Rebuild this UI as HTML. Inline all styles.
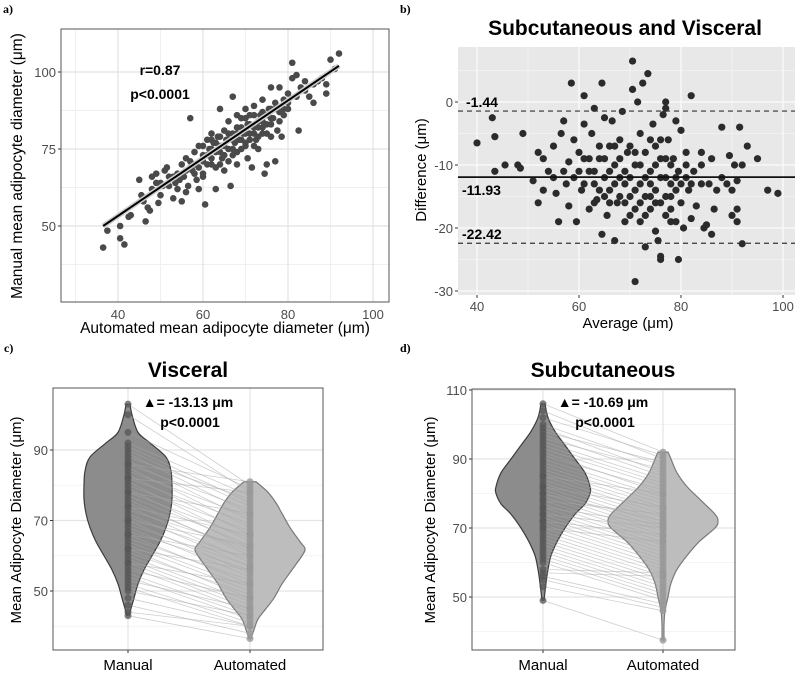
<!DOCTYPE html>
<html><head><meta charset="utf-8"><style>
html,body{margin:0;padding:0;background:#fff;}
svg{display:block;font-family:"Liberation Sans",sans-serif;}
</style></head><body>
<svg id="fig" width="800" height="673" viewBox="0 0 800 673" xmlns="http://www.w3.org/2000/svg"></svg>
<script>
// ---- Panel a data ----
const aPoints=[[36.5,43],[37.5,48.5],[40.5,50],[40.5,46],[41.5,44],[42.5,53],[43,53.5],[45.5,60],[45,65],[46,58],[46.5,51.5],[47,56],[47.5,55],[48,62],[48,66],[49,67],[49,64],[49.5,57.5],[50,60],[50.5,63],[51,68],[51.5,69],[52,63],[53,59],[53,66],[53.5,64],[54,67],[54.5,65],[55,70],[55,58],[55.5,66],[56,61],[56,72],[56.5,63],[57,69],[57,71],[57,85],[57.5,68],[58,74],[58.5,65],[59,69],[59,62],[60,73],[60,67],[60.5,57],[61,78],[61,70],[61.5,75],[62,72],[62,80],[62.5,77],[63,74],[63,69],[63,62],[63.5,79],[64,88],[64,76],[64.5,72],[65,81],[65,68],[65.5,78],[66,75],[66,84],[66.5,63],[67,80],[67,73],[67,92],[67.5,77],[68,82],[68,70],[68.5,78],[69,85],[69,75],[69.5,80],[70,88],[70,77],[70.5,83],[70.5,72],[71,80],[71,86],[71.5,69],[72,82],[72,89],[72.5,78],[73,84],[73,75],[73.5,86],[74,80],[74,91],[74.5,67],[75,83],[75,70],[75.5,88],[76,95],[76,79],[76.5,85],[77,71],[77,90],[77.5,81],[78,87],[78,95],[78.5,79],[79,91],[80,90],[80,88],[81,98],[81,103],[82,99],[82.5,81],[83,95],[84,97],[85,92],[86,90],[87,97],[89,93],[89,96],[90,104],[91,101],[92,106],[70,76],[68,74],[66,71],[64,70],[72,76],[74,84],[76,83],[62,70],[60,66],[58,70],[59,76],[65,73],[67,78],[69,82],[71,83],[73,79],[75,86],[77,88],[79,88],[61,73],[63,77],[65,76],[67,75],[69,78],[71,78],[73,82],[75,80],[60,76],[62,78],[64,79],[66,80],[68,86],[70,85],[72,86],[74,87],[76,88],[70,80],[68,80],[66,78],[64,74],[62,75],[60,71],[58,67],[56,68],[54,62],[52,66],[50,64],[72,80],[74,82],[76,85],[78,84],[80,93],[82,92],[84,94],[86,96],[88,98],[79,86]];
const aFit=[[36.5,50],[92,102]];
const aXTicks=[40,60,80,100];
const aYTicks=[50,75,100];
// ---- Panel b data ----
const bPoints=[[40,-6.5],[43,-2.5],[43.5,-5.5],[43.5,-11],[45.5,-10],[48,-10],[48.5,-10.5],[49,-5],[51,-12.5],[52,-8],[52,-16],[53,-14],[53,-9],[54,-11],[55,-7],[55.5,-14.5],[56,-19],[56.5,-5],[57,-3],[57.5,-13],[58,-16.5],[58,-9.5],[58.5,3],[59,-6],[59,-12],[59.5,-19],[60,-8],[60.5,-14],[61,-3.5],[61,1],[62,-11],[62,-17],[62.5,-5],[63,-1],[63,-13],[63.5,-15.5],[64,-9],[64.5,3],[64.5,-21],[65,-2.5],[65,-12],[65.5,-18],[66,-7],[66,-14],[66.5,-3],[67,-10],[67,-22],[67.5,-16],[68,-6],[68,-12],[68.5,-1.5],[69,-13],[69,-19],[69.5,-8],[70,-15],[70.5,2],[70.5,6.5],[71,-10],[71,-17],[71,-28.5],[71.5,0],[72,-5],[72,-13],[72,-19],[72.5,3],[73,-8],[73,-15],[73,-23],[73.5,4.5],[74,-11],[74,-17],[74.5,-3.5],[75,-7],[75,-14],[75,-20.5],[75.5,-22],[76,-9],[76,-16],[76,-25],[76,-24.5],[76.5,-2],[77,-12],[77,-18],[77,0],[77,-1],[77.5,-6],[78,-13],[78,-15],[78.5,-9],[79,-19],[79,-3],[79.5,-11],[79.5,-25],[80,-16],[80,-4.5],[80.5,-20],[81,-12],[81,-8],[81.5,-14],[82,1],[82,-18.5],[82.5,-11],[83,-16.5],[84,-8],[84,-13],[84.5,-20],[85,-19.5],[85.5,-13],[86,-9],[86,-21],[86.5,-17],[87,-14],[88,-4],[88,-12],[89,-13],[89.5,-8.5],[90,-14],[90,-18],[90.5,-10],[91,-17],[91,-19],[91,-12.5],[91.5,-4],[92,-10],[92,-22.5],[93,-7],[95,-9],[97,-14],[99,-14.5],[60,-11],[62,-9],[64,-14],[66,-11],[68,-15],[70,-12],[72,-10],[74,-13],[76,-12],[78,-10],[80,-13],[70,-18],[74,-6],[78,-17],[68,-9],[66,-16],[64,-7],[82,-13],[84,-10],[69,-11],[71,-14],[73,-12],[75,-10],[77,-15],[79,-14],[81,-10],[67,-13],[65,-9],[63,-11],[61,-13],[57,-11],[55,-12],[70,-7],[72,-16],[76,-6],[78,-19],[74,-15],[69,-16],[71,-8],[73,-18],[75,-16],[77,-9],[79,-12],[65,-15],[67,-7],[63,-16],[61,-9]];
const bMean=-11.93, bUpper=-1.44, bLower=-22.42;
const bXTicks=[40,60,80,100];
const bYTicks=[0,-10,-20,-30];
// ---- Panel c data ----
const cManualLevels=[43,45,48,52,56,60,64,68,72,76,80,84,88,92,95,100,103];
const cManualDensity=[1,3,6,10,16,24,32,38,42,44,44,43,38,22,10,4,2];
const cAutoLevels=[36.5,39,42,45,48,52,56,60,62,64,68,72,75,78,81];
const cAutoDensity=[1,4,8,16,24,32,42,52,55,50,40,32,26,18,6];
const cPairs=[[103,80],[100,78],[95,79],[92,77],[91,75],[90,74],[89,72],[88,76],[87,70],[86,73],[85,68],[84,71],[83,66],[82,69],[81,64],[80,67],[79,62],[78,65],[77,63],[76,60],[75,61],[74,58],[73,62],[72,57],[71,59],[70,55],[69,57],[68,54],[67,56],[66,52],[65,53],[64,51],[63,50],[62,48],[61,49],[60,47],[59,46],[58,45],[57,44],[56,48],[55,43],[54,42],[53,45],[52,41],[51,40],[50,43],[48,40],[46,38],[44,40],[43,36.5],[86,81],[82,78],[78,72],[74,66],[70,63],[66,60],[62,56],[58,52]];
const cYTicks=[50,70,90];
// ---- Panel d data ----
const dManualLevels=[49,54,58,62,66,70,74,77,80,82,86,90,94,98,102,106];
const dManualDensity=[1,3,5,8,14,22,32,42,47,47,42,32,22,12,5,2];
const dAutoLevels=[37.5,42,46,50,54,58,62,66,70,72,74,78,82,86,90,92];
const dAutoDensity=[1,1,2,5,8,14,24,36,52,55,52,38,24,14,8,5];
const dPairs=[[106,92],[104,90],[102,91],[100,88],[99,86],[98,89],[97,85],[96,87],[95,84],[94,83],[93,82],[92,80],[91,81],[90,79],[89,78],[88,77],[87,76],[86,75],[85,74],[84,73],[83,72],[82,71],[81,70],[80,69],[79,68],[78,67],[77,66],[76,65],[75,64],[74,63],[73,62],[72,61],[71,60],[70,59],[69,58],[68,57],[67,56],[66,55],[65,54],[64,53],[63,52],[62,51],[61,50],[60,49],[58,57],[57,56],[56,48],[55,47],[53,46],[49,37.5],[85,80],[82,76],[80,72],[78,74],[76,71],[74,70],[72,68],[70,66]];
const dYTicks=[50,70,90,110];
const groupLabels=["Manual","Automated"];

const NS="http://www.w3.org/2000/svg";
const svg=document.getElementById('fig');
function mk(tag,attrs,parent,text){const e=document.createElementNS(NS,tag);for(const k in attrs)e.setAttribute(k,attrs[k]);if(text!==undefined)e.textContent=text;(parent||svg).appendChild(e);return e;}
function lin(d0,d1,r0,r1){return v=>r0+(v-d0)*(r1-r0)/(d1-d0);}

// ================= Panel a =================
(function(){
 const L=61,R=389,T=29,B=302;
 const x=lin(40,100,118,373), y=lin(50,100,226,72);
 const g=mk('g',{});
 
 
 const bg=mk('rect',{x:L,y:T,width:R-L,height:B-T,fill:'#fff'},g);
 
 
 [30,50,70,90].forEach(v=>mk('line',{x1:x(v),x2:x(v),y1:T,y2:B,stroke:'#f0f0f0','stroke-width':1},g));
 [37.5,62.5,87.5].forEach(v=>mk('line',{x1:L,x2:R,y1:y(v),y2:y(v),stroke:'#f0f0f0','stroke-width':1},g));
 aXTicks.forEach(v=>{mk('line',{x1:x(v),x2:x(v),y1:T,y2:B,stroke:'#e2e2e2','stroke-width':1.2},g);
  const t=mk('text',{x:x(v),y:B+17,'text-anchor':'middle','font-size':13,fill:'#4d4d4d'},g,String(v));
  });
 aYTicks.forEach(v=>{mk('line',{x1:L,x2:R,y1:y(v),y2:y(v),stroke:'#e2e2e2','stroke-width':1.2},g);
  mk('line',{x1:L-3,x2:L,y1:y(v),y2:y(v),stroke:'#333'},g);
  const t=mk('text',{x:L-5,y:y(v)+5,'text-anchor':'end','font-size':13,fill:'#4d4d4d'},g,String(v));
  });
 aPoints.forEach(p=>{const c=mk('circle',{cx:x(p[0]),cy:y(p[1]),r:3.3,fill:'#4a4a4a'},g);
  });
 mk('line',{x1:x(aFit[0][0]),y1:y(aFit[0][1]),x2:x(aFit[1][0]),y2:y(aFit[1][1]),stroke:'#ccc','stroke-width':5},g);
 const fl=mk('line',{x1:x(aFit[0][0]),y1:y(aFit[0][1]),x2:x(aFit[1][0]),y2:y(aFit[1][1]),stroke:'#000','stroke-width':2},g);
 
 mk('rect',{x:L,y:T,width:R-L,height:B-T,fill:'none',stroke:'#555','stroke-width':1},g);
 const r1=mk('text',{x:160,y:75,'text-anchor':'middle','font-size':14,'font-weight':'bold'},g,'r=0.87');
 
 const r2=mk('text',{x:160,y:99,'text-anchor':'middle','font-size':14,'font-weight':'bold'},g,'p<0.0001');
 
 const xt=mk('text',{x:225,y:333,'text-anchor':'middle','font-size':15.5},g,'Automated mean adipocyte diameter (μm)');
 
 const yt=mk('text',{x:0,y:0,'text-anchor':'middle','font-size':15.5,transform:'translate(22,166) rotate(-90)'},g,'Manual mean adipocyte diameter (μm)');
 
 const pl=mk('text',{x:3,y:13,'font-size':12,'font-weight':'bold','font-family':'Liberation Serif,serif'},g,'a)');
 
})();

// ================= Panel b =================
(function(){
 const L=458,R=795,T=47,B=295;
 const x=lin(40,100,477,783), y=lin(0,-30,102,291);
 const g=mk('g',{});
 
 
 const bg=mk('rect',{x:L,y:T,width:R-L,height:B-T,fill:'#e8e8e8'},g);
 
 [5,-5,-15,-25].forEach(v=>mk('line',{x1:L,x2:R,y1:y(v),y2:y(v),stroke:'#f4f4f4','stroke-width':0.8},g));
 [50,70,90].forEach(v=>mk('line',{x1:x(v),x2:x(v),y1:T,y2:B,stroke:'#f4f4f4','stroke-width':0.8},g));
 bYTicks.forEach(v=>{mk('line',{x1:L,x2:R,y1:y(v),y2:y(v),stroke:'#fafafa','stroke-width':1.3},g);
  mk('line',{x1:L-3,x2:L,y1:y(v),y2:y(v),stroke:'#333'},g);
  const t=mk('text',{x:L-5,y:y(v)+5,'text-anchor':'end','font-size':13,fill:'#4d4d4d'},g,String(v));
  });
 bXTicks.forEach(v=>{mk('line',{x1:x(v),x2:x(v),y1:T,y2:B,stroke:'#fafafa','stroke-width':1.3},g);
  mk('line',{x1:x(v),x2:x(v),y1:B,y2:B+3,stroke:'#333'},g);
  const t=mk('text',{x:x(v),y:B+16,'text-anchor':'middle','font-size':13,fill:'#4d4d4d'},g,String(v));
  });
 bPoints.forEach(p=>{const c=mk('circle',{cx:x(p[0]),cy:y(p[1]),r:3.6,fill:'#2b2b2b'},g);
  });
 const m=mk('line',{x1:L,x2:R,y1:y(bMean),y2:y(bMean),stroke:'#111','stroke-width':1.8},g);
 
 const u=mk('line',{x1:L,x2:R,y1:y(bUpper),y2:y(bUpper),stroke:'#333','stroke-width':1.2,'stroke-dasharray':'5,4'},g);
 
 const lo=mk('line',{x1:L,x2:R,y1:y(bLower),y2:y(bLower),stroke:'#333','stroke-width':1.2,'stroke-dasharray':'5,4'},g);
 
 const t1=mk('text',{x:466,y:y(bUpper)-4,'font-size':14,'font-weight':'bold'},g,String(bUpper));
 
 const t2=mk('text',{x:462,y:y(bMean)+18,'font-size':14,'font-weight':'bold'},g,String(bMean));
 
 const t3=mk('text',{x:462,y:y(bLower)-4,'font-size':14,'font-weight':'bold'},g,String(bLower));
 
 const ti=mk('text',{x:625,y:35,'text-anchor':'middle','font-size':21,'font-weight':'bold'},g,'Subcutaneous and Visceral');
 
 const xt=mk('text',{x:628,y:328,'text-anchor':'middle','font-size':15},g,'Average (μm)');
 
 const yt=mk('text',{x:0,y:0,'text-anchor':'middle','font-size':15,transform:'translate(426,170) rotate(-90)'},g,'Difference (μm)');
 
 const pl=mk('text',{x:400,y:13,'font-size':12,'font-weight':'bold','font-family':'Liberation Serif,serif'},g,'b)');
 
})();

// ================= Violin panels =================
function smooth(pts){
 let d='';
 for(let i=0;i<pts.length-1;i++){
  const p0=pts[Math.max(0,i-1)],p1=pts[i],p2=pts[i+1],p3=pts[Math.min(pts.length-1,i+2)];
  const c1=[p1[0]+(p2[0]-p0[0])/6,p1[1]+(p2[1]-p0[1])/6];
  const c2=[p2[0]-(p3[0]-p1[0])/6,p2[1]-(p3[1]-p1[1])/6];
  d+='C'+c1[0]+','+c1[1]+' '+c2[0]+','+c2[1]+' '+p2[0]+','+p2[1];
 }
 return d;
}
function violinPanel(o){
 const {L,R,T,B,y,xm,xa,mLev,mDen,aLev,aDen,pairs,yTicks,title,tx,delta,label,labelX,yTitleX,name}=o;
 const g=mk('g',{});
 
 
 const bg=mk('rect',{x:L,y:T,width:R-L,height:B-T,fill:'#fff'},g);
 
 for(let i=0;i<yTicks.length;i++){
  const v=yTicks[i];
  mk('line',{x1:L,x2:R,y1:y(v),y2:y(v),stroke:'#e4e4e4','stroke-width':1.2},g);
  mk('line',{x1:L,x2:R,y1:y(v-10),y2:y(v-10),stroke:'#f0f0f0','stroke-width':0.8},g);
  mk('line',{x1:L-3,x2:L,y1:y(v),y2:y(v),stroke:'#333'},g);
  const t=mk('text',{x:L-5,y:y(v)+5,'text-anchor':'end','font-size':13,fill:'#4d4d4d'},g,String(v));
  
 }
 [xm,xa].forEach((cx,i)=>{mk('line',{x1:cx,x2:cx,y1:T,y2:B,stroke:'#e4e4e4','stroke-width':1.2},g);
  mk('line',{x1:cx,x2:cx,y1:B,y2:B+3,stroke:'#333'},g);
  const t=mk('text',{x:cx,y:B+20,'text-anchor':'middle','font-size':15},g,groupLabels[i]);
  });
 function vpath(cx,lev,den){
  const rp=lev.map((v,i)=>[cx+den[i],y(v)]);
  const lp=lev.map((v,i)=>[cx-den[i],y(v)]).reverse();
  return 'M'+rp[0][0]+','+rp[0][1]+smooth(rp)+'L'+lp[0][0]+','+lp[0][1]+smooth(lp)+'Z';
 }
 const vm=mk('path',{d:vpath(xm,mLev,mDen),fill:'#8c8c8c',stroke:'#3c3c3c','stroke-width':1.2,'stroke-linejoin':'round'},g);
 
 const va=mk('path',{d:vpath(xa,aLev,aDen),fill:'#bdbdbd',stroke:'#7a7a7a','stroke-width':1.2,'stroke-linejoin':'round'},g);
 
 pairs.forEach(p=>{const ln=mk('line',{x1:xm,y1:y(p[0]),x2:xa,y2:y(p[1]),stroke:'#a8a8a8','stroke-width':0.8,'stroke-opacity':0.55},g);
  });
 pairs.forEach(p=>{const c=mk('circle',{cx:xm,cy:y(p[0]),r:3.5,fill:'#555','fill-opacity':0.75},g);
  
  const c2=mk('circle',{cx:xa,cy:y(p[1]),r:3.5,fill:'#999','fill-opacity':0.8},g);
  });
 mk('rect',{x:L,y:T,width:R-L,height:B-T,fill:'none',stroke:'#555','stroke-width':1},g);
 const ti=mk('text',{x:tx,y:377,'text-anchor':'middle','font-size':21,'font-weight':'bold'},g,title);
 
 const d1=mk('text',{x:tx,y:407,'text-anchor':'middle','font-size':14,'font-weight':'bold'},g,'▲= '+delta+' μm');
 
 const d2=mk('text',{x:tx+2,y:427,'text-anchor':'middle','font-size':14,'font-weight':'bold'},g,'p<0.0001');
 
 const yt=mk('text',{x:0,y:0,'text-anchor':'middle','font-size':15,transform:'translate('+yTitleX+',520) rotate(-90)'},g,'Mean Adipocyte Diameter (μm)');
 
 const pl=mk('text',{x:labelX,y:352,'font-size':12,'font-weight':'bold','font-family':'Liberation Serif,serif'},g,label);
 
}
violinPanel({L:53,R:323,T:388,B:650,y:lin(50,90,591,450),xm:128,xa:250,mLev:cManualLevels,mDen:cManualDensity,aLev:cAutoLevels,aDen:cAutoDensity,pairs:cPairs,yTicks:cYTicks,title:'Visceral',tx:188,delta:'-13.13',label:'c)',labelX:4,yTitleX:21,name:'panel-c-visceral'});
violinPanel({L:472,R:735,T:389,B:650,y:lin(50,110,597,390),xm:543,xa:663,mLev:dManualLevels,mDen:dManualDensity,aLev:dAutoLevels,aDen:dAutoDensity,pairs:dPairs,yTicks:dYTicks,title:'Subcutaneous',tx:603,delta:'-10.69',label:'d)',labelX:400,yTitleX:435,name:'panel-d-subcutaneous'});
</script>
</body></html>
